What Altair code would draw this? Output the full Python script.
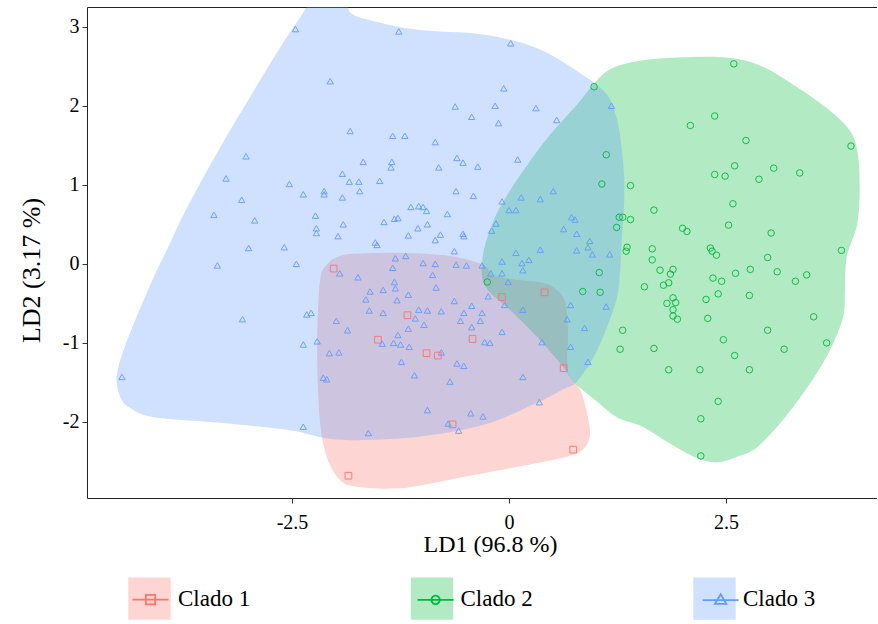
import altair as alt
import pandas as pd

CLADOS = ["Clado 1", "Clado 2", "Clado 3"]
COLORS = ["#F8766D", "#00BA38", "#619CFF"]

# ---- points (LD1, LD2) ----
clado1_x = [-2.02, -1.85, 0.41, -0.08, -1.17, -1.51, -0.42, -0.95, -0.82, 0.63, -0.65, 0.74]
clado1_y = [-0.06, -2.68, -0.36, -0.42, -0.65, -0.96, -0.95, -1.13, -1.16, -1.32, -2.03, -2.35]

clado2_x = [0.98, 1.12, 1.07, 1.27, 1.24, 2.59, 2.37, 2.09, 2.73, 3.94, 2.60, 2.37, 2.49, 2.88, 3.05, 3.35,
            1.40, 1.67, 2.58, 1.31, 1.40, 2.00, 2.05, 2.53, 3.02, 1.36, 1.35, 1.65, 2.32, 2.34, 2.39, 2.98,
            3.83, 1.65, 1.74, 1.86, 1.89, 1.56, 1.78, 1.84, 2.35, 2.45, 2.61, 2.78, 3.09, 3.30, 3.43, 2.27,
            2.41, 2.77, 1.89, 1.82, 1.92, 1.89, 1.89, 1.94, 2.29, 3.51, 1.31, 2.98, 2.47, 3.66, 1.28, 1.67,
            3.17, 2.60, 1.84, 2.20, 2.77, 2.41, 2.21, 2.21, 1.04, 0.85, 1.05, -0.25]
clado2_y = [2.24, 1.38, 1.01, 0.59, 0.46, 2.53, 1.87, 1.75, 1.56, 1.49, 1.24, 1.13, 1.11, 1.07, 1.21, 1.15,
            0.99, 0.68, 0.76, 0.59, 0.56, 0.45, 0.41, 0.49, 0.39, 0.21, 0.16, 0.19, 0.20, 0.16, 0.11, 0.08,
            0.17, 0.05, -0.08, -0.13, -0.07, -0.29, -0.27, -0.24, -0.18, -0.22, -0.12, -0.07, -0.10, -0.22, -0.14, -0.45,
            -0.38, -0.40, -0.43, -0.50, -0.49, -0.58, -0.66, -0.70, -0.69, -0.67, -0.84, -0.84, -0.96, -1.00, -1.08, -1.07,
            -1.08, -1.16, -1.34, -1.34, -1.34, -1.74, -1.96, -2.43, -0.11, -0.35, -0.36, -0.23]

clado3_x = [-2.46, -2.06, -1.83, -3.03, -3.26, -2.53, -2.37, -2.13, -2.13, -1.92, -1.84, -1.92, -3.08, -3.40,
            -2.93, -2.23, -1.91, -2.22, -2.22, -1.97, -3.00, -2.59,
            -1.27, 0.02, -0.06, -0.62, -0.16, -0.43, -0.12, 0.31, 0.55, 1.18, -1.34, -1.20, -0.85, -1.68,
            -1.35, -1.36, -0.60, -0.53, -0.81, -0.36, 0.10, -1.73, -1.72, -1.49, -0.61, -0.41, -0.08, 0.14,
            0.36, 0.51, 0.00, 0.08, -1.13, -1.04, -0.99, -0.95, -0.71, -1.44, -1.32, -1.28, -0.94, -1.05,
            -1.16, -0.79, -0.85, -0.53, -0.52, -0.15, -0.20, 0.72, 0.76, 0.63, 0.78, 0.93, 0.91, -1.54,
            -1.52, -0.63, 0.36, 0.08, 0.78, 0.96, 1.16,
            -1.19, -1.31, -1.34, -0.99, -0.85, -0.61, -0.49, -0.31, -0.08, 0.15, 0.23, 0.16, -0.21, -0.08,
            -0.01, -0.88, -1.74, -1.32, -0.84, -1.60, -1.45, -1.31, -1.16, -1.65, -1.29, -0.63, -0.24, -0.05,
            0.16, 0.71, 1.12, 0.67, 0.87, -1.61, -1.45, -1.04, -0.94, -0.78, -0.43, -0.52, -0.31, -0.56,
            -0.33, -1.08, -0.98, -0.43, -0.08, -1.16, -1.28, -1.46, -1.33, -1.25, -1.15, -0.28, -0.22, 0.38,
            0.71, 0.91, -0.78, -1.24, -0.60, -0.52, -1.09, -0.68, 0.16, 0.35, -0.94, -0.44, -0.30, -0.70,
            -0.58, -1.62,
            -3.36, -2.45, -1.95, -3.07, -2.33, -2.28, -1.99, -1.86, -2.37, -2.21, -2.07, -1.96, -4.46, -2.14,
            -2.10, -2.37]
clado3_y = [2.97, 2.31, 1.68, 1.36, 1.08, 1.01, 0.88, 0.92, 0.88, 1.14, 1.04, 0.84, 0.81, 0.62,
            0.55, 0.61, 0.50, 0.45, 0.39, 0.35, 0.20, 0.21,
            2.94, 2.79, 2.22, 1.99, 2.00, 1.86, 1.78, 1.97, 1.82, 2.00, 1.62, 1.62, 1.54, 1.29,
            1.29, 1.22, 1.34, 1.28, 1.22, 1.23, 1.32, 1.04, 0.92, 1.05, 0.92, 0.86, 0.79, 0.84,
            0.82, 0.92, 0.68, 0.68, 0.72, 0.73, 0.72, 0.67, 0.63, 0.53, 0.57, 0.58, 0.50, 0.45,
            0.36, 0.37, 0.30, 0.38, 0.35, 0.51, 0.42, 0.59, 0.56, 0.44, 0.38, 0.29, 0.21, 0.27,
            0.24, 0.16, 0.18, 0.14, 0.17, 0.12, 0.12,
            0.10, 0.07, -0.05, 0.01, 0.00, -0.01, -0.02, -0.02, 0.03, 0.01, 0.05, -0.08, -0.12, -0.12,
            -0.23, -0.14, -0.17, -0.23, -0.30, -0.35, -0.33, -0.31, -0.39, -0.45, -0.46, -0.47, -0.41, -0.52,
            -0.58, -0.52, -0.54, -0.70, -0.81, -0.59, -0.62, -0.58, -0.59, -0.60, -0.53, -0.62, -0.62, -0.72,
            -0.72, -0.69, -0.77, -0.80, -0.86, -0.82, -0.90, -1.01, -1.00, -1.02, -1.05, -0.99, -1.00, -0.99,
            -1.05, -1.24, -1.12, -1.24, -1.26, -1.29, -1.41, -1.49, -1.43, -1.75, -1.85, -1.89, -1.93, -2.02,
            -2.11, -2.14,
            -0.02, 0.00, -0.12, -0.70, -0.64, -0.62, -0.72, -0.84, -1.02, -0.98, -1.13, -1.12, -1.43, -1.44,
            -1.46, -2.06]

# ---- hull outlines (LD1, LD2) ----
hull1_x = [-2.18, -2.10, -1.95, -1.72, -1.26, -0.68, -0.30, -0.18, 0.09, 0.39, 0.55, 0.65, 0.68, 0.67,
           0.70, 0.82, 0.91, 0.93, 0.85, 0.67, 0.09, -0.68, -1.26, -1.75, -1.95, -2.10, -2.18, -2.21]
hull1_y = [-0.24, -0.01, 0.10, 0.13, 0.14, 0.10, -0.01, -0.14, -0.20, -0.24, -0.33, -0.49, -0.87, -1.22,
           -1.43, -1.59, -1.94, -2.19, -2.35, -2.44, -2.57, -2.73, -2.84, -2.82, -2.73, -2.44, -1.97, -1.09]

hull2_x = [-0.30, -0.18, -0.02, 0.21, 0.47, 0.78, 1.01, 1.20, 1.51, 1.94, 2.51, 2.89, 3.27, 3.66, 3.93,
           4.02, 4.04, 4.01, 3.89, 3.87, 3.85, 3.70, 3.47, 3.16, 2.86, 2.63, 2.40, 2.17, 1.85, 1.54, 1.24,
           0.99, 0.74, 0.62, 0.32, 0.01, -0.28]
hull2_y = [0.11, 0.54, 0.87, 1.25, 1.63, 2.01, 2.32, 2.48, 2.57, 2.61, 2.61, 2.51, 2.27, 1.97, 1.68,
           1.38, 0.92, 0.49, 0.08, -0.37, -0.67, -1.09, -1.51, -1.97, -2.32, -2.44, -2.51, -2.46, -2.27, -2.06, -1.94,
           -1.72, -1.49, -1.30, -0.92, -0.58, -0.27]

hull3_x = [-4.52, -4.44, -4.29, -4.09, -3.94, -3.71, -3.33, -2.94, -2.64, -2.41, -2.24, -1.89, -1.83, -1.60,
           -1.06, -0.30, 0.32, 0.85, 1.13, 1.24, 1.30, 1.33, 1.30, 1.26, 1.16, 0.99, 0.78, 0.62, 0.28, -0.30,
           -1.06, -1.83, -2.18, -2.56, -3.33, -4.09, -4.37, -4.48]
hull3_y = [-1.43, -1.09, -0.67, -0.16, 0.18, 0.71, 1.47, 2.19, 2.73, 3.11, 3.34, 3.34, 3.18, 3.08,
           2.96, 2.90, 2.73, 2.39, 2.14, 1.85, 1.44, 0.94, 0.30, -0.33, -0.71, -1.15, -1.49, -1.59, -1.78, -2.04,
           -2.19, -2.23, -2.19, -2.10, -2.01, -1.94, -1.82, -1.68]

X_TICKS = [-2.5, 0, 2.5]
Y_TICKS = [-2, -1, 0, 1, 2, 3]

pts = pd.DataFrame({
    "x": clado1_x + clado2_x + clado3_x,
    "y": clado1_y + clado2_y + clado3_y,
    "clado": [CLADOS[0]] * len(clado1_x) + [CLADOS[1]] * len(clado2_x) + [CLADOS[2]] * len(clado3_x),
})

hx, hy, hc, hi = [], [], [], []
for name, xs_, ys_ in [(CLADOS[0], hull1_x, hull1_y), (CLADOS[1], hull2_x, hull2_y), (CLADOS[2], hull3_x, hull3_y)]:
    for k, (a, b) in enumerate(zip(xs_, ys_)):
        hx.append(a); hy.append(b); hc.append(name); hi.append(k)
hull = pd.DataFrame({"x": hx, "y": hy, "clado": hc, "i": hi})

FONT = "Liberation Serif"
MINUS_FIX = "replace(datum.label, '\u2212', '-')"

xscale = alt.Scale(domain=[-4.862, 4.263], nice=False, zero=False)
yscale = alt.Scale(domain=[-2.962, 3.249], nice=False, zero=False)

x_enc = alt.X("x:Q", scale=xscale, axis=alt.Axis(
    values=X_TICKS, format=".1~f", labelExpr=MINUS_FIX, title="LD1 (96.8 %)",
    titleX=403, titleY=53, titleBaseline="alphabetic",
    labelBaseline="alphabetic", labelPadding=25))
y_enc = alt.Y("y:Q", scale=yscale, axis=alt.Axis(
    values=Y_TICKS, format="d", labelExpr=MINUS_FIX, title="LD2 (3.17 %)",
    titleX=-48, titleY=263, titleBaseline="alphabetic", titleAlign="center", titleFontSize=26,
    labelPadding=3))

LEG_X, LEG_Y = 41, 570
KEY_SIZE = 1800            # 42.4 px key box
ENTRY_STEP = 282.5         # distance between consecutive legend keys
FILL_PAD = 159.5

fill_legend = alt.Legend(
    title=None, orient="none", legendX=LEG_X, legendY=LEG_Y, direction="horizontal",
    symbolType="square", symbolSize=KEY_SIZE, symbolOpacity=0.3, symbolStrokeWidth=0,
    labelFont=FONT, labelFontSize=23, labelColor="black", labelOffset=7, columnPadding=FILL_PAD,
)

# legend key glyphs: a line through the point symbol (unit box -1..1)
KEY_SQUARE = "M-0.85,0H0.85M-0.22,-0.22H0.22V0.22H-0.22Z"
KEY_CIRCLE = "M-0.85,0H0.85M-0.2,0A0.2,0.2,0,1,1,0.2,0A0.2,0.2,0,1,1,-0.2,0Z"
KEY_TRIANGLE = "M-0.85,0H0.85M0,-0.27L0.27,0.18L-0.27,0.18Z"

key_legend = alt.Legend(
    title=None, orient="none", legendX=LEG_X, legendY=LEG_Y, direction="horizontal",
    symbolSize=KEY_SIZE, symbolStrokeWidth=1.8, symbolOpacity=1, symbolFillColor="transparent",
    labelExpr="''", labelOffset=0, labelFontSize=1, columnPadding=ENTRY_STEP - KEY_SIZE ** 0.5,
)

fill_scale = alt.Scale(range=COLORS)


def hull_layer(name):
    return alt.Chart(hull).transform_filter(alt.datum.clado == name).mark_line(
        interpolate="cardinal-closed", strokeWidth=0, strokeOpacity=0, fillOpacity=0.3, clip=True
    ).encode(
        x=x_enc, y=y_enc, order=alt.Order("i:Q"),
        fill=alt.Fill("clado:N", scale=fill_scale, legend=fill_legend),
    )


points = alt.Chart(pts).mark_point(filled=False, strokeWidth=1, opacity=0.9).encode(
    x=x_enc, y=y_enc,
    stroke=alt.Stroke("clado:N", scale=alt.Scale(domain=CLADOS, range=COLORS), legend=None),
    shape=alt.Shape("clado:N", scale=alt.Scale(domain=CLADOS, range=["square", "circle", "triangle-up"]),
                    legend=None),
    size=alt.Size("clado:N", scale=alt.Scale(domain=CLADOS, range=[45, 40, 100]), legend=None),
)

# legend-only layer: no rows drawn, the legend entries come from the explicit domain
keys = alt.Chart(pts).transform_filter("false").mark_point(filled=False, opacity=1).encode(
    stroke=alt.Stroke("clado:N", scale=alt.Scale(domain=CLADOS, range=COLORS), legend=key_legend),
    shape=alt.Shape("clado:N", scale=alt.Scale(domain=CLADOS, range=[KEY_SQUARE, KEY_CIRCLE, KEY_TRIANGLE]),
                    legend=key_legend),
)

chart = alt.layer(
    hull_layer(CLADOS[0]), hull_layer(CLADOS[1]), hull_layer(CLADOS[2]), points, keys
).resolve_scale(
    shape="independent", stroke="independent"
).properties(
    width=792, height=491, autosize="none",
    padding={"left": 87, "top": 7, "right": -2, "bottom": 126},
).configure_view(
    stroke="#222", strokeWidth=1,
).configure_axis(
    grid=False, domain=False, tickColor="#333", tickSize=5,
    labelFont=FONT, labelFontSize=20, labelColor="black",
    titleFont=FONT, titleFontSize=24, titleFontWeight="normal", titleColor="black",
).configure_text(font=FONT)

chart.save("out.html", embed_options={"renderer": "svg", "actions": False})
